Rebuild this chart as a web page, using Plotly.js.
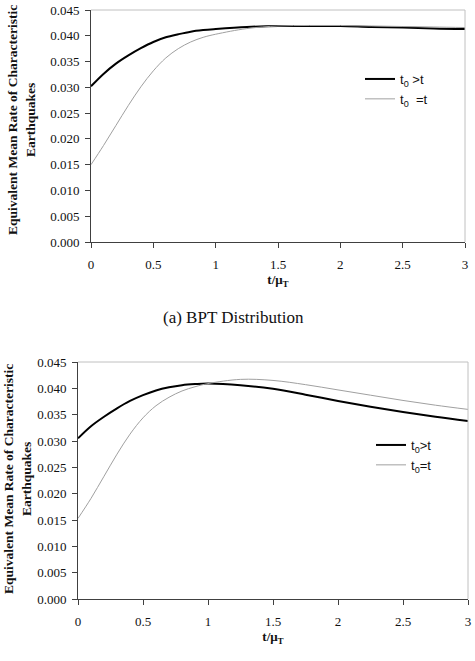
<!DOCTYPE html>
<html>
<head>
<meta charset="utf-8">
<script src="https://cdn.plot.ly/plotly-3.0.1.min.js"></script>
<style>
  html, body { margin: 0; padding: 0; background: #fff; }
  #chart { width: 475px; height: 661px; }
</style>
</head>
<body>
<div id="chart"></div>
<script>
// Normalised time t/mu_T
const tRatio = [0, 0.1, 0.2, 0.3, 0.4, 0.5, 0.6, 0.7, 0.8, 0.9, 1.0,
                1.25, 1.5, 1.75, 2.0, 2.25, 2.5, 2.75, 3.0];

// (a) BPT distribution
const bptOlder = [0.0302, 0.0326, 0.0346, 0.0362, 0.0376, 0.0388, 0.0397, 0.0403, 0.0408, 0.0411, 0.0413,
                  0.0417, 0.0419, 0.0419, 0.0419, 0.0417, 0.0416, 0.0414, 0.0413];
const bptEqual = [0.0150, 0.0187, 0.0226, 0.0265, 0.0301, 0.0332, 0.0357, 0.0375, 0.0388, 0.0397, 0.0403,
                  0.0414, 0.0419, 0.0420, 0.0420, 0.0419, 0.0418, 0.0417, 0.0416];

// (b) second distribution
const lowerOlder = [0.0305, 0.0328, 0.0346, 0.0362, 0.0376, 0.0387, 0.0396, 0.0402, 0.0406, 0.0408, 0.0409,
                    0.0406, 0.0399, 0.0388, 0.0376, 0.0365, 0.0355, 0.0346, 0.0338];
const lowerEqual = [0.0153, 0.0191, 0.0233, 0.0275, 0.0313, 0.0344, 0.0367, 0.0383, 0.0395, 0.0403, 0.0409,
                    0.0417, 0.0415, 0.0407, 0.0397, 0.0387, 0.0377, 0.0368, 0.0360];

const yTicks = [0, 0.005, 0.010, 0.015, 0.020, 0.025, 0.030, 0.035, 0.040, 0.045];
const xTicks = [0, 0.5, 1, 1.5, 2, 2.5, 3];

const legendTop = ['t<sub>0</sub> >t', 't<sub>0</sub>  =t'];
const legendBottom = ['t<sub>0</sub>>t', 't<sub>0</sub>=t'];

const yTitle = 'Equivalent Mean Rate of Characteristic<br>Earthquakes';
const xTitle = '<b>t/μ<sub>T</sub></b>';
const caption = '(a) BPT Distribution';

const W = 475, H = 661;
const px = v => v / W;
const py = v => 1 - v / H;

const serif = 'Liberation Serif';
const sans = 'Liberation Sans';

const dark = {color: '#000000', width: 2, shape: 'spline', smoothing: 1};
const light = {color: '#a0a0a0', width: 1, shape: 'spline', smoothing: 1};

const traces = [
  {x: tRatio, y: bptOlder, name: legendTop[0], mode: 'lines', line: dark, xaxis: 'x', yaxis: 'y', legend: 'legend'},
  {x: tRatio, y: bptEqual, name: legendTop[1], mode: 'lines', line: light, xaxis: 'x', yaxis: 'y', legend: 'legend'},
  {x: tRatio, y: lowerOlder, name: legendBottom[0], mode: 'lines', line: dark, xaxis: 'x2', yaxis: 'y2', legend: 'legend2'},
  {x: tRatio, y: lowerEqual, name: legendBottom[1], mode: 'lines', line: light, xaxis: 'x2', yaxis: 'y2', legend: 'legend2'}
];

function xAxis(domain, anchor) {
  return {
    domain: domain, anchor: anchor, range: [0, 3], tickvals: xTicks,
    showgrid: false, zeroline: false, showline: true, linecolor: '#404040', linewidth: 1,
    ticks: 'outside', ticklen: 5, tickcolor: '#404040', ticklabelstandoff: 5,
    tickfont: {family: serif, size: 13, color: '#111'},
    title: {text: xTitle, font: {family: serif, size: 13, color: '#111'}, standoff: 4},
    fixedrange: true
  };
}
function yAxis(domain, anchor) {
  return {
    domain: domain, anchor: anchor, range: [0, 0.045], tickvals: yTicks, tickformat: '.3f',
    showgrid: false, zeroline: false, showline: true, linecolor: '#404040', linewidth: 1,
    ticks: 'outside', ticklen: 5, tickcolor: '#404040', ticklabelstandoff: 3,
    tickfont: {family: serif, size: 13, color: '#111'},
    fixedrange: true
  };
}

// light frame on the top and right edges of each plot area
function frame(xr, yr) {
  const c = {color: '#c0c0c0', width: 1};
  return [
    {type: 'line', xref: xr + ' domain', yref: yr + ' domain', x0: 0, x1: 1, y0: 1, y1: 1, line: c},
    {type: 'line', xref: xr + ' domain', yref: yr + ' domain', x0: 1, x1: 1, y0: 0, y1: 1, line: c}
  ];
}

const layout = {
  width: W, height: H,
  margin: {l: 0, r: 0, t: 0, b: 0},
  paper_bgcolor: '#fff', plot_bgcolor: '#fff',
  showlegend: true,
  xaxis: xAxis([px(91), px(465)], 'y'),
  yaxis: yAxis([py(242), py(10)], 'x'),
  xaxis2: xAxis([px(78), px(468)], 'y2'),
  yaxis2: yAxis([py(599), py(362)], 'x2'),
  legend: {x: px(360), y: py(64), xanchor: 'left', yanchor: 'top', bgcolor: 'rgba(0,0,0,0)',
           font: {family: sans, size: 13, color: '#111'}, tracegroupgap: 0},
  legend2: {x: px(371), y: py(430), xanchor: 'left', yanchor: 'top', bgcolor: 'rgba(0,0,0,0)',
            font: {family: sans, size: 13, color: '#111'}, tracegroupgap: 0},
  shapes: frame('x', 'y').concat(frame('x2', 'y2')),
  annotations: [
    {text: '<b>' + yTitle + '</b>', textangle: -90, xref: 'paper', yref: 'paper',
     x: px(21), y: py(120), showarrow: false, xanchor: 'center', yanchor: 'middle',
     font: {family: serif, size: 13.5, color: '#111'}},
    {text: '<b>' + yTitle + '</b>', textangle: -90, xref: 'paper', yref: 'paper',
     x: px(17), y: py(479), showarrow: false, xanchor: 'center', yanchor: 'middle',
     font: {family: serif, size: 13.5, color: '#111'}},
    {text: caption, xref: 'paper', yref: 'paper', x: px(233), y: py(317),
     showarrow: false, xanchor: 'center', yanchor: 'middle',
     font: {family: serif, size: 17, color: '#111'}}
  ]
};

Plotly.newPlot('chart', traces, layout, {displayModeBar: false, staticPlot: true});
</script>
</body>
</html>
